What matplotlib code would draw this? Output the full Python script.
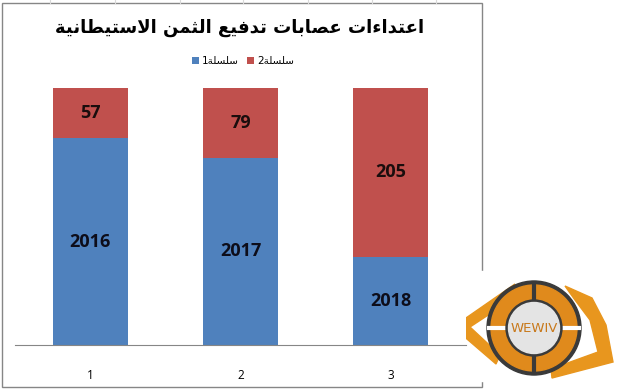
import matplotlib.pyplot as plt
from matplotlib.patches import Rectangle, Circle, Polygon

# ---- datos ----
categorias = ["1", "2", "3"]
serie1 = [235, 213, 107]          # azul (estimado a partir de las alturas)
serie2 = [57, 79, 205]            # rojo
etiquetas1 = ["2016", "2017", "2018"]
etiquetas2 = ["57", "79", "205"]
titulo = "اعتداءات عصابات تدفيع الثمن الاستيطانية"
nombres = ["سلسلة1", "سلسلة2"]

AZUL = "#4F81BD"
ROJO = "#C0504D"
GRIS = "#868686"

# ---- formas de presentación árabe (isolada, final, inicial, media) ----
formas = {
    "ا": ("\uFE8D", "\uFE8E", None, None),
    "ب": ("\uFE8F", "\uFE90", "\uFE91", "\uFE92"),
    "ة": ("\uFE93", "\uFE94", None, None),
    "ت": ("\uFE95", "\uFE96", "\uFE97", "\uFE98"),
    "ث": ("\uFE99", "\uFE9A", "\uFE9B", "\uFE9C"),
    "د": ("\uFEA9", "\uFEAA", None, None),
    "س": ("\uFEB1", "\uFEB2", "\uFEB3", "\uFEB4"),
    "ص": ("\uFEB9", "\uFEBA", "\uFEBB", "\uFEBC"),
    "ط": ("\uFEC1", "\uFEC2", "\uFEC3", "\uFEC4"),
    "ع": ("\uFEC9", "\uFECA", "\uFECB", "\uFECC"),
    "ف": ("\uFED1", "\uFED2", "\uFED3", "\uFED4"),
    "ل": ("\uFEDD", "\uFEDE", "\uFEDF", "\uFEE0"),
    "م": ("\uFEE1", "\uFEE2", "\uFEE3", "\uFEE4"),
    "ن": ("\uFEE5", "\uFEE6", "\uFEE7", "\uFEE8"),
    "ي": ("\uFEF1", "\uFEF2", "\uFEF3", "\uFEF4"),
    "ء": ("\uFE80", None, None, None),
}


def une_izq(c):
    return c in formas and formas[c][2] is not None


def une_der(c):
    return c in formas and formas[c][1] is not None


def arabe(texto):
    # ligadura lam-alef
    chars = []
    i = 0
    while i < len(texto):
        if texto[i] == "ل" and i + 1 < len(texto) and texto[i + 1] == "ا":
            chars.append("LA")
            i += 2
        else:
            chars.append(texto[i])
            i += 1
    salida = []
    for k, c in enumerate(chars):
        prev = chars[k - 1] if k > 0 else None
        nxt = chars[k + 1] if k + 1 < len(chars) else None
        if prev == "LA":
            prev_une = False
        else:
            prev_une = prev is not None and une_izq(prev)
        if c == "LA":
            salida.append("\uFEFC" if prev_une else "\uFEFB")
            continue
        if c not in formas:
            salida.append(c)
            continue
        sig_une = nxt is not None and (nxt == "LA" or une_der(nxt))
        iso, fin, ini, med = formas[c]
        conecta_der = prev_une and fin is not None
        conecta_izq = sig_une and ini is not None
        if conecta_der and conecta_izq:
            salida.append(med)
        elif conecta_der:
            salida.append(fin)
        elif conecta_izq:
            salida.append(ini)
        else:
            salida.append(iso)
    return "".join(salida)[::-1]


W, H = 627, 391
fig = plt.figure(figsize=(W / 100, H / 100), dpi=100)

# capa de fondo en píxeles (marco, logo)
fondo = fig.add_axes([0, 0, 1, 1])
fondo.set_xlim(0, W)
fondo.set_ylim(H, 0)
fondo.axis("off")
fondo.add_patch(Rectangle((1.5, 2.5), 480, 384, fill=False, edgecolor=GRIS, lw=1))
for gx in [50, 115, 180, 243, 308, 372, 436]:
    fondo.plot([gx, gx], [0, 2.5], color="#d9d9d9", lw=0.8)

# ---- gráfico ----
ax = fig.add_axes([15 / W, (H - 345) / H, (466 - 15) / W, (345 - 88) / H])
x = range(len(categorias))
tot = [a + b for a, b in zip(serie1, serie2)]
p1 = [a / t for a, t in zip(serie1, tot)]
p2 = [b / t for b, t in zip(serie2, tot)]
b1 = ax.bar(x, p1, width=0.5, color=AZUL, label=arabe(nombres[0]))
b2 = ax.bar(x, p2, bottom=p1, width=0.5, color=ROJO, label=arabe(nombres[1]))
ax.bar_label(b1, labels=etiquetas1, label_type="center", fontsize=13,
             fontweight="bold", family="Open Sans", color="#0d0d1a")
ax.bar_label(b2, labels=etiquetas2, label_type="center", fontsize=13,
             fontweight="bold", family="Open Sans", color="#1a0d0d")
ax.set_xlim(-0.5, 2.5)
ax.set_ylim(0, 1)
ax.set_xticks(list(x))
ax.set_xticklabels(categorias, family="Open Sans", fontsize=8.5)
ax.tick_params(axis="x", length=0, pad=17)
ax.set_yticks([])
for s in ["top", "right", "left"]:
    ax.spines[s].set_visible(False)
ax.spines["bottom"].set_color(GRIS)

fig.text(240 / W, 1 - 28 / H, arabe(titulo), ha="center", va="center",
         fontsize=13, fontweight="bold", color="black",
         family=["DejaVu Sans Condensed", "DejaVu Sans"])
fig.legend(handles=[b1, b2], loc="center", bbox_to_anchor=(243 / W, 1 - 61 / H),
           ncol=2, frameon=False, handlelength=0.7, handleheight=0.7,
           handletextpad=0.3, columnspacing=0.8,
           prop={"family": ["DejaVu Sans Condensed", "DejaVu Sans"], "size": 7.5})

# ---- logo ----
fondo.add_patch(Rectangle((443, 271), 184, 110, color="white", zorder=5))
NAR = "#E8961E"
OSC = "#3a3a3a"
fondo.add_patch(Polygon([(515, 284), (453, 327), (496, 364), (500, 355),
                         (470, 327), (508, 302)], color=NAR, zorder=6))
fondo.add_patch(Polygon([(565, 286), (592, 298), (606, 325), (613, 362),
                         (552, 378), (551, 369), (598, 352), (590, 320),
                         (575, 300)], color=NAR, zorder=6))
cx, cy = 534, 328
fondo.add_patch(Circle((cx, cy), 47, color=OSC, zorder=7))
fondo.add_patch(Circle((cx, cy), 43, color="#E08A1C", zorder=8))
fondo.plot([cx, cx], [cy - 45, cy + 45], color=OSC, lw=3, zorder=9)
fondo.plot([cx - 45, cx + 45], [cy, cy], color="white", lw=3, zorder=9)
fondo.add_patch(Circle((cx, cy), 28, color=OSC, zorder=10))
fondo.add_patch(Circle((cx, cy), 25.5, color="#e4e4e4", zorder=11))
fondo.text(cx, cy, "WEWIV", ha="center", va="center", fontsize=9.5,
           color="#c8781a", family="DejaVu Sans Condensed", zorder=12)

fig.savefig("out.png", dpi=100)
